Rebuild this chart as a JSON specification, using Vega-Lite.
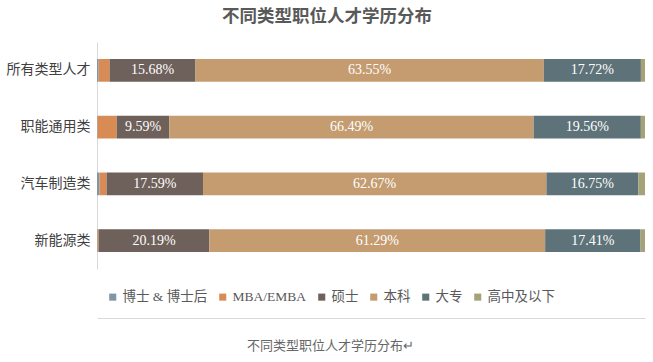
{
  "$schema": "https://vega.github.io/schema/vega-lite/v6.json",
  "width": 548,
  "height": 227,
  "autosize": {"type": "none"},
  "padding": {"left": 97, "top": 42, "right": 8, "bottom": 93},
  "background": "white",
  "title": {"text": "不同类型职位人才学历分布", "fontSize": 17.5, "fontWeight": "bold", "color": "#595959", "font": "Noto Sans CJK SC", "dx": -44, "offset": 17, "anchor": "middle"},
  "data": {"values": [
    {"cat": "所有类型人才", "edu": "博士 & 博士后", "ord": 1, "value": 0.3, "label": ""},
    {"cat": "所有类型人才", "edu": "MBA/EMBA", "ord": 2, "value": 2.0, "label": ""},
    {"cat": "所有类型人才", "edu": "硕士", "ord": 3, "value": 15.68, "label": "15.68%"},
    {"cat": "所有类型人才", "edu": "本科", "ord": 4, "value": 63.55, "label": "63.55%"},
    {"cat": "所有类型人才", "edu": "大专", "ord": 5, "value": 17.72, "label": "17.72%"},
    {"cat": "所有类型人才", "edu": "高中及以下", "ord": 6, "value": 0.75, "label": ""},
    {"cat": "职能通用类", "edu": "博士 & 博士后", "ord": 1, "value": 0.1, "label": ""},
    {"cat": "职能通用类", "edu": "MBA/EMBA", "ord": 2, "value": 3.5, "label": ""},
    {"cat": "职能通用类", "edu": "硕士", "ord": 3, "value": 9.59, "label": "9.59%"},
    {"cat": "职能通用类", "edu": "本科", "ord": 4, "value": 66.49, "label": "66.49%"},
    {"cat": "职能通用类", "edu": "大专", "ord": 5, "value": 19.56, "label": "19.56%"},
    {"cat": "职能通用类", "edu": "高中及以下", "ord": 6, "value": 0.76, "label": ""},
    {"cat": "汽车制造类", "edu": "博士 & 博士后", "ord": 1, "value": 0.45, "label": ""},
    {"cat": "汽车制造类", "edu": "MBA/EMBA", "ord": 2, "value": 1.3, "label": ""},
    {"cat": "汽车制造类", "edu": "硕士", "ord": 3, "value": 17.59, "label": "17.59%"},
    {"cat": "汽车制造类", "edu": "本科", "ord": 4, "value": 62.67, "label": "62.67%"},
    {"cat": "汽车制造类", "edu": "大专", "ord": 5, "value": 16.75, "label": "16.75%"},
    {"cat": "汽车制造类", "edu": "高中及以下", "ord": 6, "value": 1.24, "label": ""},
    {"cat": "新能源类", "edu": "博士 & 博士后", "ord": 1, "value": 0.1, "label": ""},
    {"cat": "新能源类", "edu": "MBA/EMBA", "ord": 2, "value": 0.2, "label": ""},
    {"cat": "新能源类", "edu": "硕士", "ord": 3, "value": 20.19, "label": "20.19%"},
    {"cat": "新能源类", "edu": "本科", "ord": 4, "value": 61.29, "label": "61.29%"},
    {"cat": "新能源类", "edu": "大专", "ord": 5, "value": 17.41, "label": "17.41%"},
    {"cat": "新能源类", "edu": "高中及以下", "ord": 6, "value": 0.81, "label": ""}
  ]},
  "transform": [
    {"stack": "value", "groupby": ["cat"], "sort": [{"field": "ord", "order": "ascending"}], "as": ["v0", "v1"]},
    {"calculate": "(datum.v0 + datum.v1) / 2", "as": "mid"}
  ],
  "encoding": {
    "y": {
      "field": "cat", "type": "nominal", "sort": null,
      "scale": {"paddingInner": 0.6, "paddingOuter": 0.3},
      "axis": {"title": null, "domain": true, "domainColor": "#d9d9d9", "ticks": false, "grid": false, "labelFontSize": 14, "labelColor": "#404040", "labelPadding": 7, "labelFont": "Noto Sans CJK SC"}
    }
  },
  "layer": [
    {
      "mark": {"type": "bar"},
      "encoding": {
        "x": {
          "field": "v0", "type": "quantitative",
          "scale": {"domain": [0, 100], "nice": false},
          "axis": {"labels": false, "ticks": false, "grid": false, "domain": true, "domainColor": "#d9d9d9", "offset": 49,
            "title": "不同类型职位人才学历分布↵", "titleFontSize": 13, "titleFontWeight": "normal", "titleColor": "#666666", "titleFont": "Noto Sans CJK SC",
            "titleX": 233, "titleY": 27, "titleAlign": "center", "titleBaseline": "middle"}
        },
        "x2": {"field": "v1"},
        "color": {
          "field": "edu", "type": "nominal",
          "scale": {
            "domain": ["博士 & 博士后", "MBA/EMBA", "硕士", "本科", "大专", "高中及以下"],
            "range": ["#7f95a8", "#d98b55", "#6e605a", "#c49c70", "#5e7379", "#a5a277"]
          },
          "legend": {
            "title": null, "orient": "none", "legendX": 9, "legendY": 248, "direction": "horizontal",
            "symbolType": "square", "symbolSize": 50, "symbolStrokeWidth": 0,
            "labelFontSize": 13.5, "labelColor": "#595959", "labelFont": "Liberation Serif, Noto Sans CJK SC",
            "labelOffset": 3, "columnPadding": 8
          }
        }
      }
    },
    {
      "transform": [{"filter": {"field": "edu", "oneOf": ["硕士", "本科", "大专"]}}],
      "mark": {"type": "text", "color": "white", "fontSize": 14, "font": "Liberation Serif", "align": "center", "baseline": "middle"},
      "encoding": {
        "x": {"field": "mid", "type": "quantitative"},
        "text": {"field": "label"}
      }
    }
  ],
  "config": {"view": {"stroke": null}}
}
